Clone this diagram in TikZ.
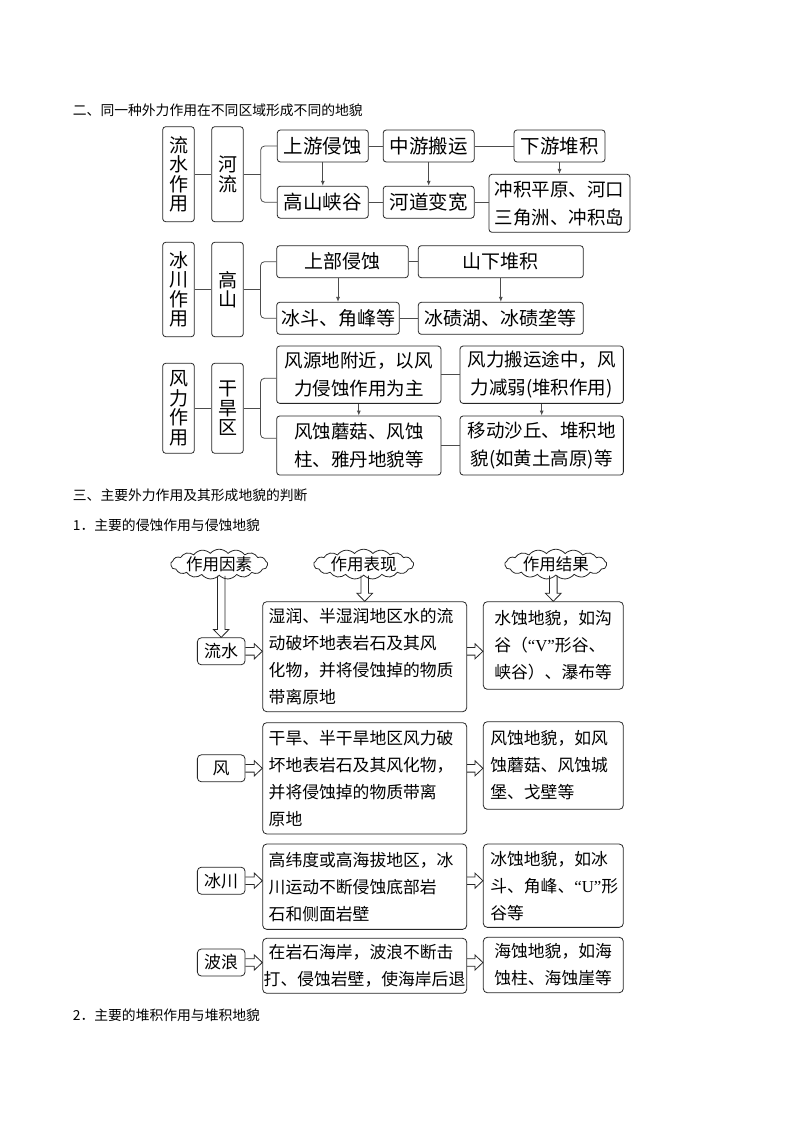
\documentclass[tikz,border=0pt]{standalone}
\usepackage{fontspec}
\setmainfont{Noto Sans CJK SC}
\newfontfamily\latq{Liberation Serif}
\usetikzlibrary{shapes.symbols,calc,arrows.meta}
\newcommand\fHead{\fontsize{13.8}{16}\selectfont}
\newcommand\fOne{\fontsize{19.5}{23}\selectfont}
\newcommand\fVert{\fontsize{19}{19.5}\selectfont}
\newcommand\fTwo{\fontsize{18.5}{28}\selectfont}
\newcommand\fSec{\fontsize{19}{23}\selectfont}
\newcommand\fFour{\fontsize{16.8}{27}\selectfont}
\newcommand\fLab{\fontsize{17}{20}\selectfont}
\newcommand\fCloud{\fontsize{16.5}{20}\selectfont}
\newcommand\hollowdown[2]{%
  \draw[harrow] ($(#2 |- #1.south)+(-3.8,0)$) -- ($(#2.north)+(-3.8,-8)$) -- ($(#2.north)+(-7.8,-8)$) -- (#2.north) -- ($(#2.north)+(7.8,-8)$) -- ($(#2.north)+(3.8,-8)$) -- ($(#2 |- #1.south)+(3.8,0)$);}
\newcommand\hollowright[3]{%
  \draw[harrow] ($(#1 -| #2.east)+(0,-3.8)$) -- ($(#1 -| #3.west)+(-8,-3.8)$) -- ($(#1 -| #3.west)+(-8,-7.6)$) -- (#1 -| #3.west) -- ($(#1 -| #3.west)+(-8,7.6)$) -- ($(#1 -| #3.west)+(-8,3.8)$) -- ($(#1 -| #2.east)+(0,3.8)$);}
\begin{document}
\begin{tikzpicture}[x=1pt,y=-1pt,
  box/.style={draw=black!85, line width=0.8pt, rounded corners=3pt, inner sep=0pt, align=center},
  vbox/.style={box, font=\fVert, minimum width=31.6pt},
  tbox/.style n args={2}{box, rounded corners=4pt, align=left, text width=#1, inner xsep=#2, inner ysep=0pt, font=\fFour},
  lab/.style={box, rounded corners=4pt, font=\fLab, minimum width=47.7pt, minimum height=27pt},
  conn/.style={draw=black!70, line width=0.8pt},
  arr/.style={conn, -{Latex[length=5pt,width=4pt]}},
  harrow/.style={draw=black!85, line width=0.8pt, line join=miter},
  cloudn/.style={cloud, cloud ignores aspect, draw=black!85, line width=0.8pt, cloud puffs=17, cloud puff arc=100, inner sep=0pt, minimum width=#1, minimum height=30pt},
  head/.style={anchor=west, font=\fHead, inner sep=0pt}]
\fill[white] (0,0) rectangle (794,1123);
\useasboundingbox (0,0) rectangle (794,1123);

% headings
\node[head] (hA) at (72.7,110) {二、同一种外力作用在不同区域形成不同的地貌};
\node[head] (hB) at (72.7,495) {三、主要外力作用及其形成地貌的判断};
\node[head] (hC) at (72.7,525) {1．主要的侵蚀作用与侵蚀地貌};
\node[head] (hD) at (72.7,1015) {2．主要的堆积作用与堆积地貌};

% ---------- section 1 ----------
\node[vbox, minimum height=95pt] (a1) at (178.5,174.2) {流\\水\\作\\用};
\node[vbox, minimum height=95pt] (a2) at (227.5,174.2) {河\\流};
\coordinate (br1) at (260.7,174.2);
\node[box, font=\fOne, minimum width=91pt, minimum height=32pt] (u1) at (322.8,146) {上游侵蚀};
\node[box, font=\fOne, minimum width=91pt, minimum height=32pt] (m1) at (428.7,146) {中游搬运};
\node[box, font=\fOne, minimum width=91pt, minimum height=32pt] (x1) at (559.5,146) {下游堆积};
\node[box, font=\fOne, minimum width=91pt, minimum height=32pt] (g1) at (322.8,202.2) {高山峡谷};
\node[box, font=\fOne, minimum width=91pt, minimum height=32pt] (h1) at (428.7,202.2) {河道变宽};
\node[box, font=\fTwo, minimum width=141pt, minimum height=58pt] (cj) at (559.5,203.3) {冲积平原、河口\\三角洲、冲积岛};
\draw[conn] (a1) -- (a2);
\draw[conn] (a2.east) -- (br1);
\draw[conn, rounded corners=4pt] (u1.west) -| (br1) |- (g1.west);
\draw[conn] (u1) -- (m1);
\draw[conn] (m1) -- (x1);
\draw[conn] (g1) -- (h1);
\draw[conn] (h1.east) -- (h1.east -| cj.west);
\draw[arr] (u1) -- (g1);
\draw[arr] (m1) -- (h1);
\draw[arr] (x1.south) -- (x1.south |- cj.north);

% ---------- section 2 ----------
\node[vbox, minimum height=94.4pt] (b1) at (178.5,289.5) {冰\\川\\作\\用};
\node[vbox, minimum height=94.4pt] (b2) at (227.5,289.5) {高\\山};
\coordinate (br2) at (260.5,289.5);
\node[box, font=\fSec, minimum width=131.6pt, minimum height=32pt] (s1) at (342.5,261.7) {上部侵蚀};
\node[box, font=\fSec, minimum width=165pt, minimum height=32pt] (s2) at (500.8,261.7) {山下堆积};
\node[box, font=\fSec, minimum width=122.6pt, minimum height=32pt] (t1) at (338,318.3) {冰斗、角峰等};
\node[box, font=\fSec, minimum width=165pt, minimum height=32pt] (t2) at (500.8,318.3) {冰碛湖、冰碛垄等};
\draw[conn] (b1) -- (b2);
\draw[conn] (b2.east) -- (br2);
\draw[conn, rounded corners=4pt] (s1.west) -| (br2) |- (t1.west);
\draw[conn] (s1) -- (s2);
\draw[conn] (t1) -- (t2);
\draw[arr] (t1 |- s1.south) -- (t1.north);
\draw[arr] (s2) -- (t2);

% ---------- section 3 ----------
\node[vbox, minimum height=90pt] (f1) at (178.5,408.3) {风\\力\\作\\用};
\node[vbox, minimum height=90pt] (f2) at (227.5,408.3) {干\\旱\\区};
\coordinate (br3) at (260.5,408.3);
\node[box, font=\fTwo, minimum width=164.3pt, minimum height=57.3pt] (p1) at (358.8,374.7) {风源地附近，以风\\力侵蚀作用为主};
\node[box, font=\fTwo, minimum width=163.3pt, minimum height=57.3pt] (p2) at (541.7,374.7) {风力搬运途中，风\\力减弱(堆积作用)};
\node[box, font=\fTwo, minimum width=164.3pt, minimum height=59pt] (q1) at (358.8,445.5) {风蚀蘑菇、风蚀\\柱、雅丹地貌等};
\node[box, font=\fTwo, minimum width=163.3pt, minimum height=59pt] (q2) at (541.7,445.5) {移动沙丘、堆积地\\貌(如黄土高原)等};
\draw[conn] (f1) -- (f2);
\draw[conn] (f2.east) -- (br3);
\draw[conn, rounded corners=4pt] ($(p1.west)+(0,3.6)$) -| (br3) |- ($(q1.west)+(0,-7.2)$);
\draw[conn] (p1) -- (p2);
\draw[conn] (q1) -- (q2);
\draw[arr] (p1) -- (q1);
\draw[arr] (p2) -- (q2);

% ---------- section 4 ----------
\node[cloudn=97pt] (c1) at (219.2,564.2) {};
\node[font=\fCloud, inner sep=0pt] (c1t) at (c1) {作用因素};
\node[cloudn=100pt] (c2) at (363.7,564.2) {};
\node[font=\fCloud, inner sep=0pt] (c2t) at (c2) {作用表现};
\node[cloudn=102pt] (c3) at (555.8,564.2) {};
\node[font=\fCloud, inner sep=0pt] (c3t) at (c3) {作用结果};

\node[lab] (l1) at (221.2,651.3) {流水};
\node[tbox={192pt}{6pt}, minimum height=110pt] (d1) at (364.7,656.7) {湿润、半湿润地区水的流\\动破坏地表岩石及其风\\化物，并将侵蚀掉的物质\\带离原地};
\node[tbox={118pt}{11pt}, minimum height=87.6pt] (r1) at (553.3,645.5) {水蚀地貌，如沟\\谷（{\latq “V”}形谷、\\峡谷）、瀑布等};

\node[lab] (l2) at (221.2,768.3) {风};
\node[tbox={192pt}{6pt}, minimum height=111.3pt] (d2) at (364.7,778.3) {干旱、半干旱地区风力破\\坏地表岩石及其风化物，\\并将侵蚀掉的物质带离\\原地};
\node[tbox={126pt}{7pt}, minimum height=87.6pt] (r2) at (553.3,765.5) {风蚀地貌，如风\\蚀蘑菇、风蚀城\\堡、戈壁等};

\node[lab] (l3) at (221.2,880.7) {冰川};
\node[tbox={192pt}{6pt}, minimum height=85.3pt] (d3) at (364.7,886.7) {高纬度或高海拔地区，冰\\川运动不断侵蚀底部岩\\石和侧面岩壁};
\node[tbox={126pt}{7pt}, minimum height=83.3pt] (r3) at (553.3,885.7) {冰蚀地貌，如冰\\斗、角峰、{\latq “U”}形\\谷等};

\node[lab] (l4) at (221.2,962.5) {波浪};
\node[tbox={202pt}{1pt}, minimum height=55pt] (d4) at (364.7,965.8) {\hspace*{5pt}在岩石海岸，波浪不断击\\打、侵蚀岩壁，使海岸后退};
\node[tbox={118pt}{11pt}, minimum height=55.4pt] (r4) at (553.3,965) {海蚀地貌，如海\\蚀柱、海蚀崖等};

\hollowdown{c1}{l1}
\hollowdown{c2}{d1}
\hollowdown{c3}{r1}
\hollowright{l1}{l1}{d1}
\hollowright{l1}{d1}{r1}
\hollowright{l2}{l2}{d2}
\hollowright{l2}{d2}{r2}
\hollowright{l3}{l3}{d3}
\hollowright{l3}{d3}{r3}
\hollowright{l4}{l4}{d4}
\hollowright{l4}{d4}{r4}
\end{tikzpicture}
\end{document}
